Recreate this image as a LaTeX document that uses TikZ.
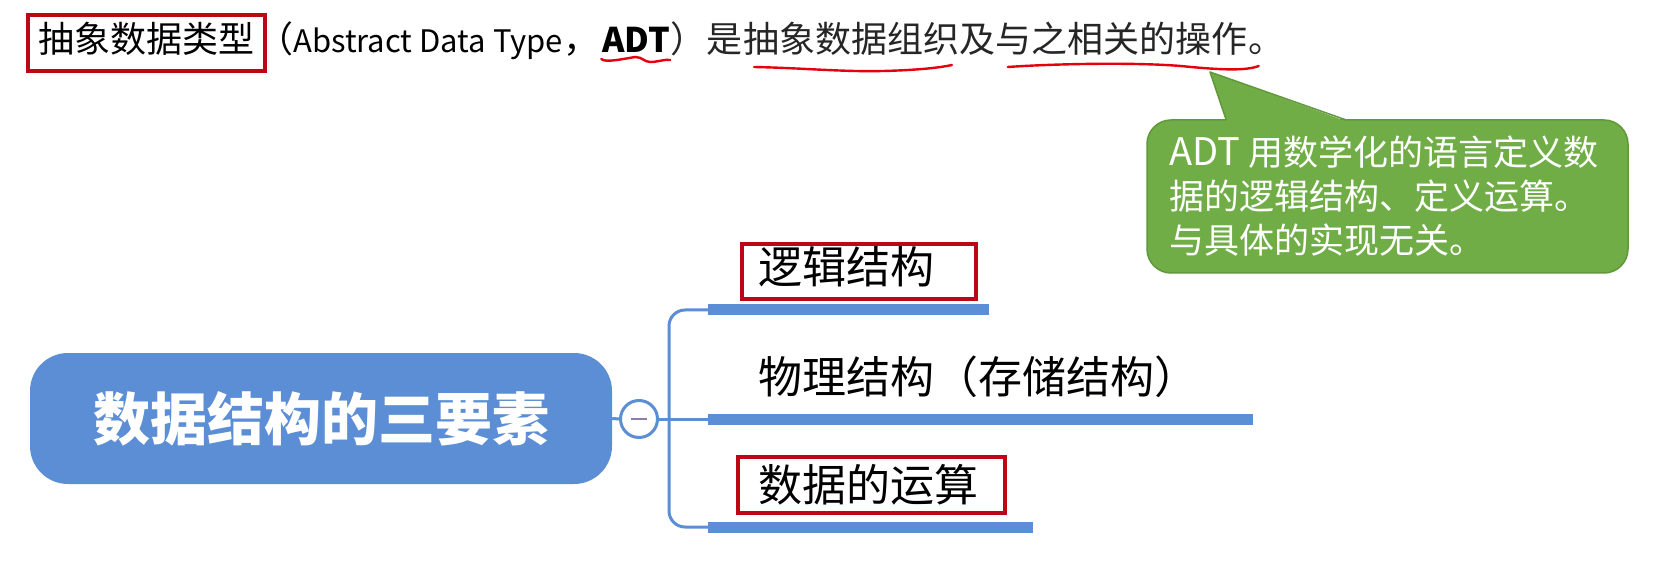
\documentclass[tikz,border=0pt]{standalone}
\usepackage{fontspec}
\setmainfont{Noto Sans CJK SC}
\usepackage{tikz}
\usetikzlibrary{calc, positioning}
\definecolor{mapBlue}{RGB}{91,142,212}
\definecolor{noteGreen}{RGB}{112,173,71}
\definecolor{noteEdge}{RGB}{96,152,58}
\definecolor{markRed}{RGB}{188,8,22}
\definecolor{penRed}{RGB}{228,0,12}
\definecolor{foldGray}{RGB}{140,125,175}

\begin{document}
\begin{tikzpicture}[x=1pt, y=-1pt,
  word/.style={inner sep=0pt, anchor=base west, font=\fontsize{36}{43}\selectfont},
  topic/.style={inner sep=0pt, anchor=base west, font=\fontsize{44}{52}\selectfont},
  hilite/.style={draw=markRed, line width=4pt},
  penline/.style={penRed, line width=2.4pt, line cap=round},
  branch/.style={mapBlue, line width=3pt, rounded corners=16pt},
  topicbar/.style={mapBlue, line width=11pt}]
  \useasboundingbox[fill=white] (0,0) rectangle (1660,569);

  % definition sentence
  \node[word, hilite, inner xsep=10.5pt, text height=30pt, text depth=10pt, inner ysep=8pt] (adt) at (26,53) {抽象数据类型};
  \node[word] (latin) at (adt.base east) {\kern-10pt（{\fontsize{31}{40}\selectfont Abstract Data Type}，};
  \node[word, font=\fontsize{34}{40}\selectfont\bfseries] (abbr) at ([xshift=3pt]latin.base east) {ADT};
  \node[word, text=black!85] (shi) at (abbr.base east) {）是};
  \node[word, text=black!85] (org) at (shi.base east) {抽象数据组织};
  \node[word, text=black!85] (ji) at (org.base east) {及};
  \node[word, text=black!85] (ops) at (ji.base east) {与之相关的操作};
  \node[word, text=black!85] (stop) at (ops.base east) {。};

  % hand-drawn underlines
  \draw[penline, shift={(abbr.base west)}] (-1,6) .. controls (3,10) and (20,6) .. (33,4)
    .. controls (40,4) and (42,9) .. (48,9) .. controls (56,9) and (62,6) .. (68,7);
  \draw[penline, shift={(org.base west)}] (11,14) .. controls (60,15) and (100,19) .. (140,18)
    .. controls (180,17) and (200,14) .. (209,12);
  \draw[penline, shift={(ops.base west)}] (12,14) .. controls (55,11) and (135,9) .. (185,13)
    .. controls (225,17) and (250,18) .. (263,13);

  % callout
  \node[draw=noteEdge, line width=1.5pt, fill=noteGreen, rounded corners=24pt, text=white,
    align=left, text width=437pt, inner xsep=22pt, minimum height=153pt,
    font=\fontsize{35}{44}\selectfont] (note) at (1387.5,196.5)
    {{\fontsize{38}{44}\selectfont ADT}\hspace{9pt}用数学化的语言定义数\\据的逻辑结构、定义运算。\\与具体的实现无关。};
  \coordinate (tip) at (1210,72);
  \fill[noteGreen] ($(note.north west)+(80,2)$) -- (tip) -- ($(note.north west)+(200,2)$) -- cycle;
  \draw[noteEdge, line width=1.5pt, line join=round] ($(note.north west)+(80,0.75)$) -- (tip)
    -- ($(note.north west)+(200,0.75)$);

  % mind map
  \node[fill=mapBlue, rounded corners=38pt, minimum width=582pt, minimum height=131pt, text=white,
    font=\fontsize{57}{64}\selectfont\bfseries] (root) at (321,418.5) {数据结构的三要素};
  \node[circle, draw=mapBlue, line width=3pt, fill=white, minimum size=37pt, inner sep=0pt] (fold) at (639,419) {};
  \draw[foldGray, line width=2.5pt] ([xshift=-8pt]fold.center) -- ([xshift=8pt]fold.center);
  \coordinate (hub) at (669,419);

  \node[topic] (logic) at (758,284) {逻辑结构};
  \node[topic] (store) at (758,393) {物理结构（存储结构）};
  \node[topic] (oper) at (758,501) {数据的运算};

  \draw[hilite] ($(logic.base west)+(-16,-40)$) rectangle ($(logic.base east)+(42,15)$);
  \draw[hilite] ($(oper.base west)+(-20,-44)$) rectangle ($(oper.base east)+(27,12)$);

  \foreach \t in {logic, store, oper} {
    \coordinate (\t-bar) at ($(\t.base west)+(-50,26)$);
    \draw[topicbar] (\t-bar) -- ($(\t.base east)+(55,26)$);
  }

  \draw[branch] (root.east) -- (fold.west);
  \draw[branch] (fold.east) -- (hub);
  \draw[branch] (hub) |- (logic-bar);
  \draw[branch] (hub) |- (oper-bar);
  \draw[branch] (hub) -- (store-bar);
\end{tikzpicture}
\end{document}
